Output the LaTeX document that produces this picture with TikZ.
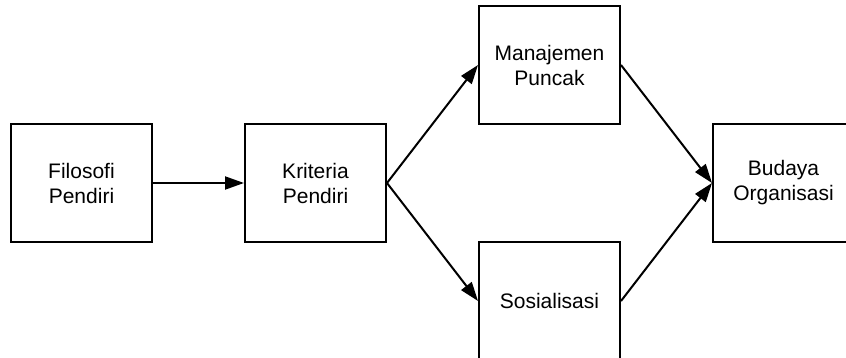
\documentclass[tikz,border=0pt]{standalone}
\usepackage{fontspec}
\setmainfont{Liberation Sans}
\usetikzlibrary{arrows.meta,positioning}

\begin{document}
\begin{tikzpicture}[x=1pt,y=1pt,node distance=-2pt and 91pt,>={Triangle[length=19pt,width=13pt]},
box/.style={draw,line width=2pt,align=center,minimum height=118pt,minimum width=141pt,font=\fontsize{21}{25}\selectfont},
link/.style={->,line width=2pt}]
\useasboundingbox (0,0) rectangle (846,-358);
\node[box] (filosofi) at (81.5,-183) {Filosofi\\Pendiri};
\node[box,right=of filosofi] (kriteria) {Kriteria\\Pendiri};
\node[box,above right=of kriteria] (manajemen) {Manajemen\\Puncak};
\node[box,below right=of kriteria] (sosialisasi) {Sosialisasi};
\node[box,below right=of manajemen] (budaya) {Budaya\\Organisasi};
\draw[link] (filosofi)--(kriteria);
\draw[link] (kriteria.east)--(manajemen.west);
\draw[link] (kriteria.east)--(sosialisasi.west);
\draw[link] (manajemen.east)--(budaya.west);
\draw[link] (sosialisasi.east)--(budaya.west);
\end{tikzpicture}
\end{document}
